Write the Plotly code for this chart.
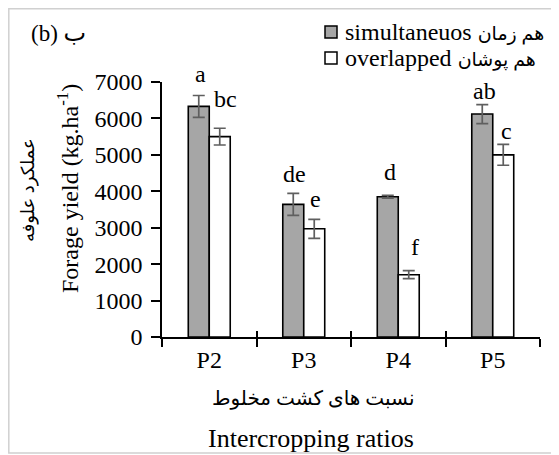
import plotly.graph_objects as go

categories = ["P2", "P3", "P4", "P5"]
simul_vals = [6330, 3640, 3850, 6120]
simul_err = [300, 300, 40, 260]
overl_vals = [5500, 2970, 1710, 5000]
overl_err = [230, 260, 110, 285]
simul_letters = ["a", "de", "d", "ab"]
overl_letters = ["bc", "e", "f", "c"]

simul_en, simul_fa = "simultaneuos", "هم زمان"
overl_en, overl_fa = "overlapped", "هم پوشان"

FONT = "Liberation Serif, Times New Roman, DejaVu Sans, serif"
GRAY = "#a6a6a6"

# page body has an 8px margin: work in reference-pixel coords, shift by OFF
OFF = 8
W, H = 559 - OFF, 455 - OFF
L, T = 162 - OFF, 82 - OFF
R = W - (540 - OFF)
B = H - (337 - OFF)
PW, PH = W - L - R, H - T - B


def px(xr):
    return (xr - OFF - L) / PW


def py(yr):
    return (H - B - (yr - OFF)) / PH


fig = go.Figure()
fig.add_trace(go.Bar(
    x=categories, y=simul_vals, name=simul_en + " " + simul_fa,
    marker=dict(color=GRAY, line=dict(color="black", width=1.6)),
    error_y=dict(type="data", array=simul_err, color="#5f5f5f", thickness=1.7, width=6),
))
fig.add_trace(go.Bar(
    x=categories, y=overl_vals, name=overl_en + " " + overl_fa,
    marker=dict(color="#ffffff", line=dict(color="black", width=1.6)),
    error_y=dict(type="data", array=overl_err, color="#5f5f5f", thickness=1.7, width=6),
))
# helper (empty) trace so the overlaid axis draws the inner half of boundary ticks
fig.add_trace(go.Scatter(x=categories, y=[None] * 4, xaxis="x2", showlegend=False,
                         hoverinfo="skip", mode="markers"))

# significance letters
simul_dx = [-9, -9.5, -8.5, -8.5]
overl_dx = [16, 11.5, 17, 13.5]
simul_gap = [13, 11.4, 15, 6]
overl_gap = [21.6, 12.3, 15.3, 5.4]
ann = []
for i, c in enumerate(categories):
    ann.append(dict(x=c, y=simul_vals[i] + simul_err[i], text=simul_letters[i],
                    xref="x", yref="y", showarrow=False, xanchor="center", yanchor="bottom",
                    xshift=simul_dx[i], yshift=simul_gap[i] - 7,
                    font=dict(family=FONT, size=24, color="black")))
    ann.append(dict(x=c, y=overl_vals[i] + overl_err[i], text=overl_letters[i],
                    xref="x", yref="y", showarrow=False, xanchor="center", yanchor="bottom",
                    xshift=overl_dx[i], yshift=overl_gap[i] - 7,
                    font=dict(family=FONT, size=24, color="black")))

ann += [
    dict(text="(b) <span style='font-size:24px'>ب</span>", x=px(29), y=py(33), xref="paper", yref="paper",
         showarrow=False, xanchor="left", yanchor="middle",
         font=dict(family=FONT, size=23, color="black")),
    dict(text="Forage yield (kg.ha<sup>-1</sup>)", x=px(68), y=py(189), xref="paper", yref="paper",
         showarrow=False, textangle=-90, xanchor="center", yanchor="middle",
         font=dict(family=FONT, size=24, color="black")),
    dict(text="عملکرد علوفه", x=px(28), y=py(190), xref="paper", yref="paper",
         showarrow=False, textangle=-90, xanchor="center", yanchor="middle",
         font=dict(family=FONT, size=18, color="black")),
    dict(text="نسبت های کشت مخلوط", x=px(313), y=py(398), xref="paper", yref="paper",
         showarrow=False, xanchor="center", yanchor="middle",
         font=dict(family=FONT, size=20, color="black")),
    dict(text="Intercropping ratios", x=px(311), y=py(438), xref="paper", yref="paper",
         showarrow=False, xanchor="center", yanchor="middle",
         font=dict(family=FONT, size=26, color="black")),
]

# manual legend (tight row spacing like the reference)
legend_rows = [(simul_en, simul_fa, GRAY, 32), (overl_en, overl_fa, "#ffffff", 58)]
shapes = [dict(type="rect", xref="paper", yref="paper", x0=px(8.8), x1=px(600), y0=py(453), y1=py(8.8),
               line=dict(color="#d0d0d0", width=1.5), fillcolor="rgba(0,0,0,0)", layer="below")]
for en, fa, col, yc in legend_rows:
    shapes.append(dict(type="rect", xref="paper", yref="paper", x0=px(325), x1=px(337),
                       y0=py(yc + 6), y1=py(yc - 6), line=dict(color="black", width=1.5),
                       fillcolor=col))
    ann.append(dict(text=en + " <span style='font-size:19px'>" + fa + "</span>", x=px(343), y=py(yc),
                    xref="paper", yref="paper", showarrow=False, xanchor="left", yanchor="middle",
                    font=dict(family=FONT, size=24, color="black")))

fig.update_layout(
    width=W, height=H,
    margin=dict(l=L, r=R, t=T, b=B, pad=0),
    paper_bgcolor="white", plot_bgcolor="white",
    barmode="group", bargap=0.556, bargroupgap=0,
    font=dict(family=FONT, size=24, color="black"),
    showlegend=False,
    xaxis=dict(type="category", range=[-0.5, 3.5], showline=True, linecolor="black", linewidth=1.6,
               ticks="outside", tickson="boundaries", ticklen=8, tickwidth=1.6, tickcolor="black",
               showgrid=False, zeroline=False, tickfont=dict(family=FONT, size=24, color="black")),
    xaxis2=dict(type="category", range=[-0.5, 3.5], overlaying="x", side="bottom",
                ticks="inside", tickson="boundaries", ticklen=6, tickwidth=1.6, tickcolor="black",
                showticklabels=False, showgrid=False, zeroline=False, showline=False),
    yaxis=dict(range=[0, 7000], dtick=1000, tick0=0, showline=True, linecolor="black", linewidth=1.6,
               ticks="outside", ticklen=9, tickwidth=1.6, tickcolor="black",
               showgrid=False, zeroline=False, ticklabelstandoff=4,
               tickfont=dict(family=FONT, size=24, color="black")),
    annotations=ann,
    shapes=shapes,
)

fig.write_html("out.html")
